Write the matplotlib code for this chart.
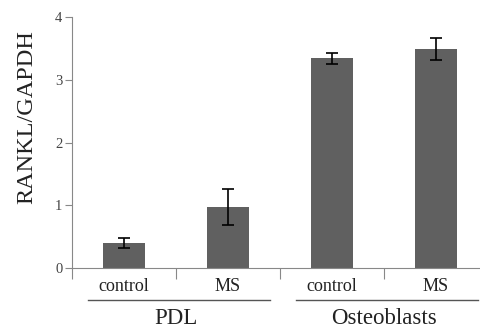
import matplotlib
matplotlib.use("Agg")
import matplotlib.pyplot as plt
import matplotlib.transforms as mtransforms
import numpy as np

groups = ["PDL", "Osteoblasts"]
conditions = ["control", "MS", "control", "MS"]
values = [0.40, 0.97, 3.34, 3.49]
errors = [0.08, 0.29, 0.09, 0.17]
yticks = [0, 1, 2, 3, 4]

plt.rcParams['font.family'] = ['Liberation Serif', 'DejaVu Serif']

fig = plt.figure(figsize=(4.81, 3.29), dpi=100)
W, H = 481, 329
x0, x1 = 72, 488
ytop, ybot = 17, 268
ax = fig.add_axes([x0 / W, 1 - ybot / H, (x1 - x0) / W, (ybot - ytop) / H])

x = np.arange(len(values)) + 0.5
ax.bar(x, values, width=0.4, color="#606060", zorder=2)
ax.errorbar(x, values, yerr=errors, fmt="none", ecolor="black", elinewidth=1.2,
            capsize=4.5, capthick=1.2, zorder=3)

ax.set_xlim(0, len(values))
ax.set_ylim(0, 4)
ax.set_yticks(yticks)
ax.set_yticklabels([str(t) for t in yticks], fontsize=10.5, color="#444444")
ax.tick_params(axis="y", length=5, color="#888888", width=0.8, pad=2)

ax.set_xticks(np.arange(len(values) + 1))
ax.set_xticklabels([])
ax.tick_params(axis="x", length=8, color="#888888", width=0.8, direction="out")

for s in ["top", "right"]:
    ax.spines[s].set_visible(False)
for s in ["left", "bottom"]:
    ax.spines[s].set_color("#888888")
    ax.spines[s].set_linewidth(0.8)

ax.set_ylabel("RANKL/GAPDH", fontsize=17.5, color="#222222")
ax.yaxis.set_label_coords(-0.084, 0.60)

# category labels
for xi, lab in zip(x, conditions):
    ax.annotate(lab, xy=(xi, 0), xycoords=("data", "axes fraction"),
                xytext=(0, -13), textcoords="offset points",
                ha="center", va="center", fontsize=13, color="#222222")

# group lines and labels
trans = ax.get_xaxis_transform()
for gi, g in enumerate(groups):
    a, b = gi * 2 + 0.15, gi * 2 + 1.9
    line = plt.Line2D([a, b], [0, 0], color="#555555", lw=1.0, clip_on=False)
    line.set_transform(trans + mtransforms.ScaledTranslation(0, -0.32, fig.dpi_scale_trans))
    ax.add_line(line)
    ax.annotate(g, xy=(gi * 2 + 1.0, 0), xycoords=("data", "axes fraction"),
                xytext=(0, -36), textcoords="offset points",
                ha="center", va="center", fontsize=16.5, color="#222222")

fig.savefig("out.png", dpi=100)
